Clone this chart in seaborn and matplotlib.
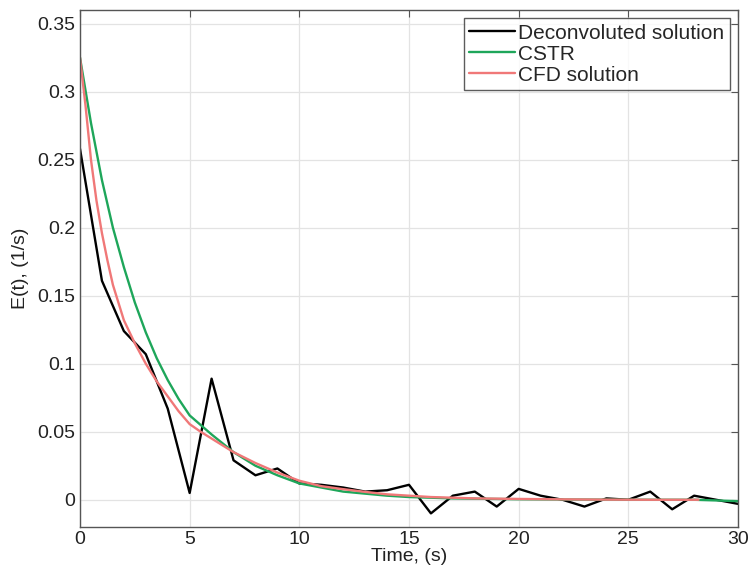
import numpy as np
import pandas as pd
import matplotlib
matplotlib.use("Agg")
import matplotlib.pyplot as plt
import seaborn as sns

# Deconvoluted solution (black)
t_dec = list(range(0, 31))
e_dec = [0.258, 0.161, 0.124, 0.107, 0.067, 0.005, 0.089, 0.029, 0.018, 0.023,
         0.012, 0.011, 0.009, 0.006, 0.007, 0.011, -0.010, 0.003, 0.006, -0.005,
         0.008, 0.003, 0.000, -0.005, 0.001, 0.000, 0.006, -0.007, 0.003, 0.000,
         -0.003]

# CSTR (green)
t_cstr = [0, 0.5, 1, 1.5, 2, 2.5, 3, 3.5, 4, 4.5, 5, 5.5, 6, 7, 8, 9, 10, 11,
          12, 13, 14, 15, 16, 17, 18, 19, 20, 22, 24, 26, 28, 30]
e_cstr = [0.325, 0.277, 0.235, 0.200, 0.171, 0.145, 0.123, 0.104, 0.088, 0.074,
          0.062, 0.055, 0.048, 0.035, 0.025, 0.018, 0.012, 0.009, 0.006,
          0.0045, 0.003, 0.002, 0.0015, 0.001, 0.0008, 0.0006, 0.0004, 0.0002,
          0.0001, 0.0, 0.0, -0.001]

# CFD solution (red)
t_cfd = [0, 0.25, 0.5, 0.75, 1, 1.25, 1.5, 2, 2.5, 3, 3.5, 4, 4.5, 5, 5.5, 6,
         7, 8, 9, 10, 11, 12, 13, 14, 15, 16, 17, 18, 20, 22, 24, 26, 28.2]
e_cfd = [0.325, 0.290, 0.250, 0.220, 0.196, 0.176, 0.158, 0.132, 0.115, 0.100,
         0.087, 0.076, 0.065, 0.0556, 0.050, 0.045, 0.035, 0.027, 0.020, 0.014,
         0.010, 0.0078, 0.0058, 0.004, 0.003, 0.002, 0.0015, 0.001, 0.0006,
         0.0003, 0.0001, 0.0, 0.0]

labels = ["Deconvoluted solution", "CSTR", "CFD solution"]
colors = ["#000000", "#1ea65a", "#f07878"]

df = pd.concat([
    pd.DataFrame({"t": t_dec, "E": e_dec, "series": labels[0]}),
    pd.DataFrame({"t": t_cstr, "E": e_cstr, "series": labels[1]}),
    pd.DataFrame({"t": t_cfd, "E": e_cfd, "series": labels[2]}),
])

sns.set_style("white")
plt.rcParams["font.family"] = ["Liberation Sans", "DejaVu Sans"]

fig = plt.figure(figsize=(7.49, 5.77), dpi=100)
ax = fig.add_axes([0.1068, 0.0867, 0.8785, 0.896])

sns.lineplot(data=df, x="t", y="E", hue="series", hue_order=labels,
             palette=colors, ax=ax, linewidth=1.7, estimator=None, sort=False)

ax.set_xlim(0, 30)
ax.set_ylim(-0.02, 0.36)
ax.set_xticks([0, 5, 10, 15, 20, 25, 30])
ax.set_yticks([0, 0.05, 0.1, 0.15, 0.2, 0.25, 0.3, 0.35])
ax.set_yticklabels(["0", "0.05", "0.1", "0.15", "0.2", "0.25", "0.3", "0.35"])
ax.grid(True, color="#e3e3e3", linewidth=0.9)
ax.tick_params(direction="in", length=5, labelsize=14, top=True, right=True,
               color="#555555", labelcolor="#222222")
ax.tick_params(axis="x", pad=3)
for s in ax.spines.values():
    s.set_color("#555555")
    s.set_linewidth(1.0)
ax.set_xlabel("Time, (s)", fontsize=14, labelpad=0, color="#222222")
ax.set_ylabel("E(t), (1/s)", fontsize=14, color="#222222", labelpad=6)

leg = ax.legend(loc="upper right", fontsize=15, frameon=True, fancybox=False,
                handlelength=2.2, handletextpad=0.15, borderpad=0.25,
                labelspacing=0.1, borderaxespad=0.4)
leg.get_frame().set_edgecolor("#333333")
leg.get_frame().set_linewidth(1.0)

fig.savefig("out.png", dpi=100)
